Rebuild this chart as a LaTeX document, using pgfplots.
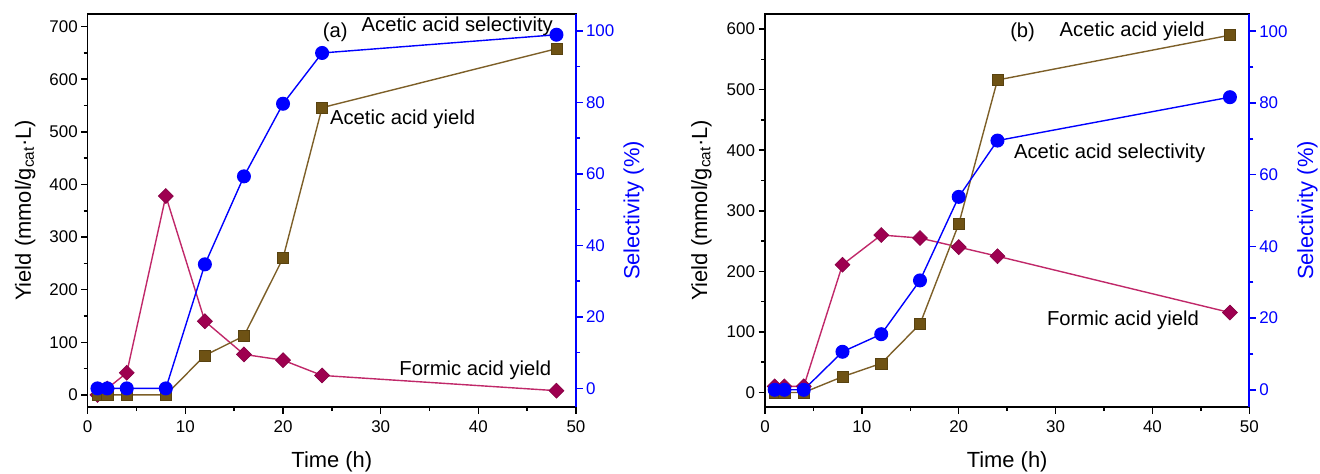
\documentclass[border=0pt]{standalone}
\usepackage{pgfplots}
\pgfplotsset{compat=1.18}
\usepackage{fontspec}
\setmainfont{Liberation Sans}
\definecolor{brn}{RGB}{110,82,20}
\definecolor{brnline}{RGB}{125,95,40}
\definecolor{mag}{RGB}{158,0,80}
\definecolor{magline}{RGB}{192,40,105}
\definecolor{blu}{RGB}{0,0,255}
\pgfplotstableread{
t acy fay
1 0 0
2 0 12
4 0 42
8 0 378
12 75 140
16 112 77
20 260 66
24 546 37
48 658 8
}\dataAY
\pgfplotstableread{
t sel
1 0
2 0
4 0
8 0
12 34.7
16 59.3
20 79.6
24 93.8
48 98.9
}\dataAS
\pgfplotstableread{
t acy fay
1 0 10
2 0 10
4 0 10
8 26 211
12 48 260
16 113 255
20 278 240
24 516 225
48 590 132
}\dataBY
\pgfplotstableread{
t sel
1 0
2 0
4 0
8 10.6
12 15.5
16 30.5
20 53.8
24 69.5
48 81.6
}\dataBS
\tikzset{ann/.style={anchor=west, font=\fontsize{20.3}{24}\selectfont, inner sep=0pt}}
\pgfplotsset{
  base/.style={scale only axis, xmin=0, xmax=50, height=393bp,
    /pgf/number format/assume math mode=true,
    tick label style={font=\fontsize{17}{20}\selectfont},
    xticklabel style={yshift=-4bp},
    label style={font=\fontsize{22}{26}\selectfont},
    major tick length=6.5bp, minor tick length=4bp, tick align=outside,
    clip=false},
  leftax/.style={base, axis line style={line width=1.5bp},
    tick style={line width=1.5bp, black},
    xtick={0,10,...,50}, minor x tick num=1, minor y tick num=1,
    xtick pos=left, ytick pos=left,
    xlabel={Time (h)}, ylabel={Yield (mmol/g\textsubscript{cat}·L)},
    xlabel style={at={(axis description cs:0.5,-0.139)}, anchor=center}},
  rightax/.style={base, axis x line=none, axis y line*=right,
    ymin=-5.2, ymax=104.7, ytick={0,20,...,100}, minor y tick num=1,
    y axis line style={blu, line width=2.2bp},
    tick style={line width=1.5bp, blu},
    yticklabel style={blu},
    ylabel={Selectivity (\%)}},
  fa/.style={magline, line width=1.4bp, mark=square*, mark size=5.3bp,
    mark options={rotate=45, fill=mag, draw=mag!85!black, line width=0.6bp}},
  aa/.style={brnline, line width=1.4bp, mark=square*, mark size=5.6bp,
    mark options={fill=brn, draw=brn!80!black, line width=0.6bp}},
  ss/.style={blu, line width=1.4bp, mark=*, mark size=6.3bp,
    mark options={fill=blu, draw=blu}},
}
\begin{document}
\begin{tikzpicture}
\useasboundingbox (-87.7bp,-67bp) rectangle (1232.3bp,407bp);
% ---- panel (a)
\begin{axis}[leftax, at={(0,0)}, width=488.3bp,
  ymin=-23, ymax=724, ytick={0,100,...,700},
  ylabel style={at={(axis description cs:-0.128,0.5)}, anchor=center}]
\addplot[fa] table[x=t, y=fay] {\dataAY};
\addplot[aa] table[x=t, y=acy] {\dataAY};
\node[ann] at (axis cs:24.05,690) {(a)};
\node[ann] at (axis cs:28.04,700) {Acetic acid selectivity};
\node[ann] at (axis cs:24.8,524) {Acetic acid yield};
\node[ann] at (axis cs:31.9,47) {Formic acid yield};
\end{axis}
\begin{axis}[rightax, at={(0,0)}, width=488.3bp,
  ylabel style={blu, at={(axis description cs:1.118,0.5)}, anchor=center}]
\addplot[ss] table[x=t, y=sel] {\dataAS};
\end{axis}
% ---- panel (b)
\begin{axis}[leftax, at={(677.3bp,0)}, width=484.3bp,
  ymin=-24, ymax=625, ytick={0,100,...,600},
  ylabel style={at={(axis description cs:-0.131,0.5)}, anchor=center}]
\addplot[fa] table[x=t, y=fay] {\dataBY};
\addplot[aa] table[x=t, y=acy] {\dataBY};
\node[ann] at (axis cs:25.3,595) {(b)};
\node[ann] at (axis cs:30.4,596) {Acetic acid yield};
\node[ann] at (axis cs:25.7,395) {Acetic acid selectivity};
\node[ann] at (axis cs:29.1,120) {Formic acid yield};
\end{axis}
\begin{axis}[rightax, at={(677.3bp,0)}, width=484.3bp, ymin=-4.8, ymax=104.8,
  ylabel style={blu, at={(axis description cs:1.12,0.5)}, anchor=center}]
\addplot[ss] table[x=t, y=sel] {\dataBS};
\end{axis}
\end{tikzpicture}
\end{document}
